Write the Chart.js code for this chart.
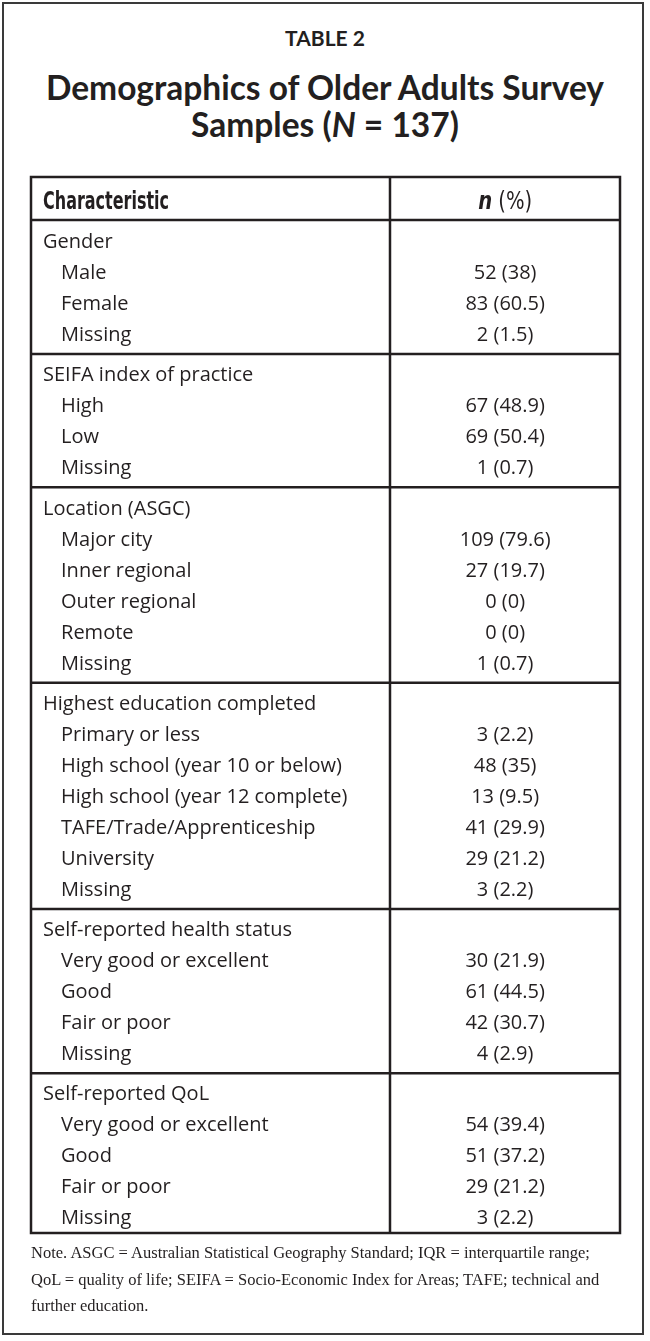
<!DOCTYPE html>
<html>
<head>
<meta charset="utf-8">
<script src="https://cdn.jsdelivr.net/npm/chart.js@4.4.1/dist/chart.umd.min.js"></script>
<style>
  html, body { margin: 0; padding: 0; background: #fff; }
  #page { position: relative; width: 650px; height: 1341px; overflow: hidden; color: #231f20; }
  #frame { position: absolute; left: 2px; top: 2px; width: 642px; height: 1333px; border: 2px solid #3a3a3a; box-sizing: border-box; }
  #kicker { position: absolute; left: 0; top: 25px; width: 650px; text-align: center; font: bold 21px/25px Lato, sans-serif; }
  #title { position: absolute; left: 0; top: 69px; width: 650px; text-align: center; font: bold 33.5px/37px Lato, sans-serif; }
  #note { position: absolute; left: 31px; top: 1240px; width: 600px; font: 16.5px/26.5px "Liberation Serif", serif; }
  #chart { position: absolute; left: 0; top: 0; }
</style>
</head>
<body>
<div id="page">
  <div id="frame"></div>
  <div id="kicker">TABLE 2</div>
  <div id="title">Demographics of Older Adults Survey<br>Samples (<i>N</i> = 137)</div>
  <canvas id="chart" width="650" height="1341"></canvas>
  <div id="note">Note. ASGC = Australian Statistical Geography Standard; IQR = interquartile range;<br>QoL = quality of life; SEIFA = Socio-Economic Index for Areas; TAFE; technical and<br>further education.</div>
</div>
<script>
const sectionTitles = ['Gender', 'SEIFA index of practice', 'Location (ASGC)', 'Highest education completed', 'Self-reported health status', 'Self-reported QoL'];
const rowLabels = ['Male', 'Female', 'Missing',
  'High', 'Low', 'Missing',
  'Major city', 'Inner regional', 'Outer regional', 'Remote', 'Missing',
  'Primary or less', 'High school (year 10 or below)', 'High school (year 12 complete)', 'TAFE/Trade/Apprenticeship', 'University', 'Missing',
  'Very good or excellent', 'Good', 'Fair or poor', 'Missing',
  'Very good or excellent', 'Good', 'Fair or poor', 'Missing'];
const rowSection = [0, 0, 0, 1, 1, 1, 2, 2, 2, 2, 2, 3, 3, 3, 3, 3, 3, 4, 4, 4, 4, 5, 5, 5, 5];
const counts = [52, 83, 2, 67, 69, 1, 109, 27, 0, 0, 1, 3, 48, 13, 41, 29, 3, 30, 61, 42, 4, 54, 51, 29, 3];
const percents = [38, 60.5, 1.5, 48.9, 50.4, 0.7, 79.6, 19.7, 0, 0, 0.7, 2.2, 35, 9.5, 29.9, 21.2, 2.2, 21.9, 44.5, 30.7, 2.9, 39.4, 37.2, 21.2, 2.2];
const columnHeaders = ['Characteristic', 'n', ' (%)'];

const INK = '#231f20';
const BODY_FONT = '20px "Open Sans", sans-serif';
const HEAD_FONT = 'bold 24px "Liberation Sans Narrow", "DejaVu Sans Condensed", sans-serif';
const SECTION_GAP = 0.3;     // extra slot between groups
const DIVIDER = 0.6095;      // x of the column rule
const HEADER_BOTTOM = -0.67;
const HEADER_TEXT = -1.3;

// one slot per line, groups pushed apart a little
const headPoints = [], rowPoints = [], valuePoints = [], sectionEdges = [];
let slot = 0;
sectionTitles.forEach((t, s) => {
  const y0 = slot + s * SECTION_GAP;
  if (s > 0) sectionEdges.push(y0 - (1 + SECTION_GAP) / 2);
  headPoints.push({x: 0.0204, y: y0, label: t});
  slot++;
  rowLabels.forEach((lab, i) => {
    if (rowSection[i] !== s) return;
    const y = slot + s * SECTION_GAP;
    rowPoints.push({x: 0.051, y: y, label: lab});
    valuePoints.push({x: 0.805, y: y, label: counts[i] + ' (' + percents[i] + ')'});
    slot++;
  });
});

function hline(ctx, x1, x2, y) {
  ctx.beginPath(); ctx.moveTo(x1, y); ctx.lineTo(x2, y); ctx.stroke();
}

const tablePlugin = {
  id: 'tableText',
  afterDatasetsDraw(chart) {
    const {ctx, chartArea: a, scales: {x, y}} = chart;
    ctx.save();
    ctx.strokeStyle = INK;
    ctx.lineWidth = 2.5;
    ctx.strokeRect(a.left, a.top, a.right - a.left, a.bottom - a.top);
    const dx = x.getPixelForValue(DIVIDER);
    ctx.beginPath(); ctx.moveTo(dx, a.top); ctx.lineTo(dx, a.bottom); ctx.stroke();
    hline(ctx, a.left, a.right, y.getPixelForValue(HEADER_BOTTOM));
    sectionEdges.forEach(v => hline(ctx, a.left, a.right, y.getPixelForValue(v)));

    ctx.fillStyle = INK;
    ctx.textBaseline = 'alphabetic';
    chart.data.datasets.forEach((ds, di) => {
      const meta = chart.getDatasetMeta(di);
      ctx.font = BODY_FONT;
      ctx.textAlign = ds.align;
      meta.data.forEach((pt, i) => ctx.fillText(ds.data[i].label, pt.x, pt.y + 7));
    });

    // column headings, squeezed to the condensed look of the original
    const hy = y.getPixelForValue(HEADER_TEXT) + 8.5;
    ctx.textAlign = 'left';
    ctx.font = HEAD_FONT;
    ctx.fillText(columnHeaders[0], x.getPixelForValue(0.0204), hy, 126);
    const nFont = 'italic ' + HEAD_FONT;
    const pFont = '24px "Liberation Sans Narrow", "DejaVu Sans Condensed", sans-serif';
    ctx.font = nFont; const w1 = ctx.measureText(columnHeaders[1]).width;
    ctx.font = pFont; const w2 = ctx.measureText(columnHeaders[2]).width;
    const f = Math.min(1, 54 / (w1 + w2));
    ctx.save();
    ctx.translate(x.getPixelForValue(0.805) - (w1 + w2) * f / 2, hy);
    ctx.scale(f, 1);
    ctx.font = nFont; ctx.fillText(columnHeaders[1], 0, 0);
    ctx.font = pFont; ctx.fillText(columnHeaders[2], w1, 0);
    ctx.restore();
    ctx.restore();
  }
};

new Chart(document.getElementById('chart'), {
  type: 'scatter',
  data: {
    datasets: [
      {label: 'groups', data: headPoints, align: 'left', pointRadius: 0},
      {label: 'rows', data: rowPoints, align: 'left', pointRadius: 0},
      {label: 'values', data: valuePoints, align: 'center', pointRadius: 0}
    ]
  },
  options: {
    responsive: false,
    animation: false,
    devicePixelRatio: 1,
    layout: {padding: {left: 31, right: 30, top: 177, bottom: 108}},
    scales: {
      x: {type: 'linear', min: 0, max: 1, display: false},
      y: {type: 'linear', min: -2.06, max: 32.0, reverse: true, display: false}
    },
    plugins: {legend: {display: false}, tooltip: {enabled: false}}
  },
  plugins: [tablePlugin]
});
</script>
</body>
</html>
